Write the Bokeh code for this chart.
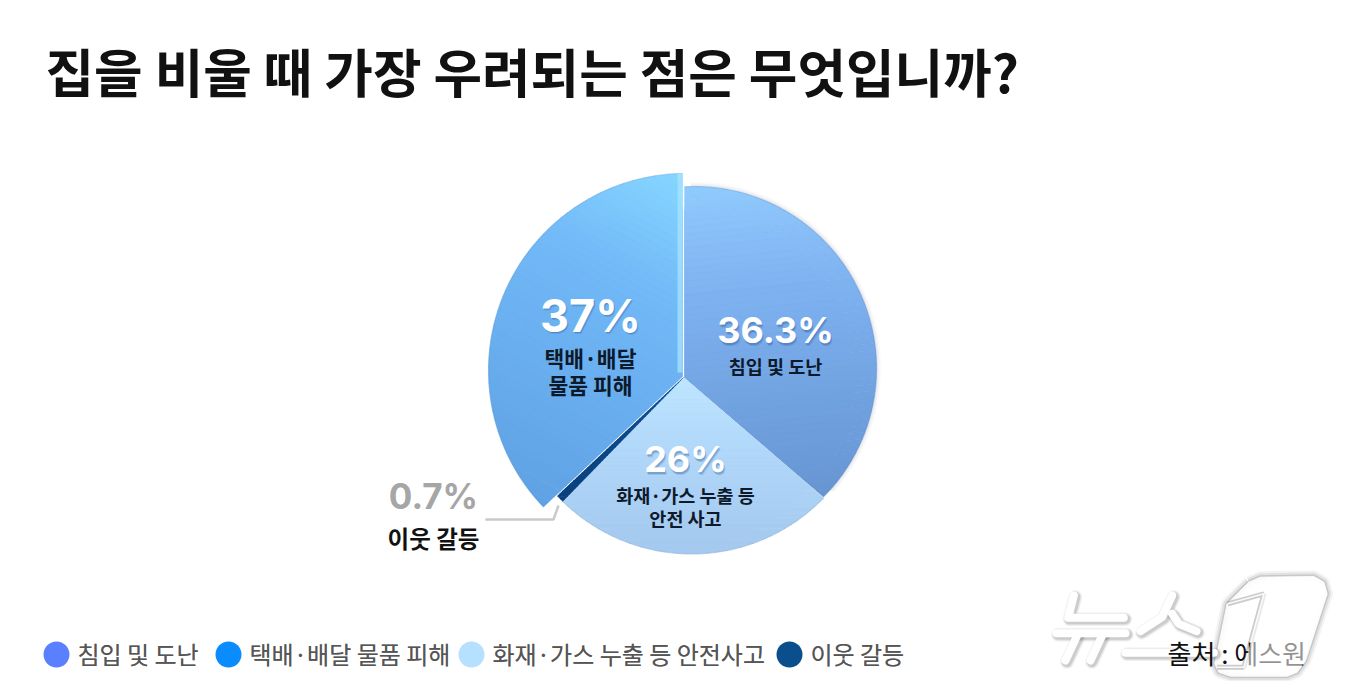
import numpy as np
from bokeh.plotting import figure
from bokeh.core.properties import value
from bokeh.embed import file_html
from bokeh.resources import INLINE

# ---- data ----
categories = ["침입 및 도난", "화재·가스 누출 등 안전사고", "이웃 갈등", "택배·배달 물품 피해"]
values = [36.3, 26.0, 0.7, 37.0]
legend_order = ["침입 및 도난", "택배·배달 물품 피해", "화재·가스 누출 등 안전사고", "이웃 갈등"]
legend_colors = ["#5B80FF", "#0A8CFF", "#B5E0FF", "#0A4F8C"]
title = "집을 비울 때 가장 우려되는 점은 무엇입니까?"
source = "출처 : 에스원"

FONT = "Noto Sans CJK KR"
NUM = "Inter"


def Y(py):
    return 697 - py


p = figure(width=1334, height=681, x_range=(0, 1334), y_range=(16, 697),
           output_backend="svg", toolbar_location=None, min_border=0,
           background_fill_color="white", border_fill_color="white")
p.axis.visible = False
p.grid.visible = False
p.outline_line_color = None

# ---- pie ----
shares = np.array(values) / sum(values) * 2 * np.pi
ends = np.cumsum(shares)
starts = ends - shares
# arc circle (cx, cy, r), apex, gradient stops, gradient direction (px)
styles = [
    ((694, 368, 182), (684, 377), ("#90CBFD", "#7FB2F1", "#6695D2"), (0.10, 1.0)),
    ((691, 369.5, 184), (683, 377), ("#BFE6FF", "#B3DAFB", "#A4C8EE"), (0.0, 1.0)),
    ((691, 369.5, 184), (683, 377), ("#0F5AA0", "#0D4C8E", "#0B3F7C"), (0.0, 1.0)),
    ((685, 370, 197), (682, 376), ("#86D6FF", "#72B9F8", "#5FA2E4"), (-0.55, 1.0)),
]


def slice_polygon(a0, a1, circle, ap):
    cx, cy, r = circle
    th = np.linspace(a0, a1, 90)
    pts = [ap]
    for t in th:
        d = np.array([np.sin(t), -np.cos(t)])
        f = np.array(ap, float) - np.array([cx, cy], float)
        b = f @ d
        s = -b + np.sqrt(b * b - (f @ f - r * r))
        pts.append(tuple(np.array(ap) + s * d))
    return np.array(pts, float)


def clip(poly, n, lo, hi):
    def half(P, sign, lim):
        out = []
        for i in range(len(P)):
            A, B = P[i], P[(i + 1) % len(P)]
            da, db = sign * (A @ n - lim), sign * (B @ n - lim)
            if da >= 0:
                out.append(A)
            if da * db < 0:
                out.append(A + (B - A) * da / (da - db))
        return np.array(out) if out else np.zeros((0, 2))
    P = half(poly, 1, lo)
    if len(P):
        P = half(P, -1, hi)
    return P


def mix(c0, c1, t):
    a = [int(c0[i:i + 2], 16) for i in (1, 3, 5)]
    b = [int(c1[i:i + 2], 16) for i in (1, 3, 5)]
    return "#%02x%02x%02x" % tuple(round(x + (y - x) * t) for x, y in zip(a, b))


def ramp(stops, t):
    # the middle stop sits a third of the way along
    if t < 0.33:
        return mix(stops[0], stops[1], t / 0.33)
    return mix(stops[1], stops[2], (t - 0.33) / 0.67)


# soft shadow behind the pie
for w, a in ((9, 0.03), (6, 0.05), (3, 0.07)):
    t = np.linspace(-0.02, 2.3, 80)
    p.line(694 + 182 * np.sin(t), Y(368 - 182 * np.cos(t)), line_color="#5A6B80", line_width=w, line_alpha=a)

# base wedges from the values
for a0, a1, st in zip(starts, ends, styles):
    p.wedge(x=st[1][0], y=Y(st[1][1]), radius=168, start_angle=np.pi / 2 - a0, end_angle=np.pi / 2 - a1,
            direction="clock", fill_color=st[2][2], line_color=None)

# gradient slices, drawn from the same angles
for idx in (0, 1, 2, 3):
    a0, a1 = starts[idx], ends[idx]
    circle, ap, stops, g = styles[idx]
    poly = slice_polygon(a0, a1, circle, ap)
    n = np.array(g, float)
    n /= np.linalg.norm(n)
    proj = poly @ n
    lo, hi = proj.min(), proj.max()
    N = 48
    edges = np.linspace(lo, hi, N + 1)
    xs, ys, cs = [], [], []
    for i in range(N):
        P = clip(poly, n, edges[i], edges[i + 1] + 0.3)
        if len(P) < 3:
            continue
        xs.append(list(P[:, 0]))
        ys.append(list(Y(P[:, 1])))
        cs.append(ramp(stops, (i + 0.5) / N))
    p.patches(xs, ys, fill_color=cs, line_color=cs, line_width=0.4)
    # rim
    rim = poly[1:]
    rim_col = mix(stops[2], "#3E6FA8", 0.45)
    if idx != 2:
        p.line(rim[:, 0], Y(rim[:, 1]), line_color=rim_col, line_width=1.2, line_alpha=0.25)

# bevel on the straight edge of the big exploded slice
left_poly = slice_polygon(starts[3], ends[3], styles[3][0], styles[3][1])
tx = left_poly[-1, 0]
p.line([tx - 2.5, tx - 2.5], [Y(left_poly[-1, 1]), Y(styles[3][1][1] - 4)], line_color="#A6E4FF", line_width=5, line_alpha=0.75)


# ---- labels ----
def label(x, y, text, size, color, font=FONT, style="bold", align="center", alpha=1.0):
    p.text(x=[x], y=[Y(y - 1.5)], text=[text], text_font=value(font), text_font_size=value(f"{size}px"),
           text_font_style=style, text_color=color, text_align=align, text_baseline="middle", text_alpha=alpha)


def pct(x, y, text, size):
    for dx, dy, a in ((1.5, 2.5, 0.18), (0.8, 1.5, 0.25)):
        label(x + dx, y + dy, text, size, "#1F4E86", font=NUM, alpha=a)
    label(x, y, text, size, "#FFFFFF", font=NUM)


label(45, 71, title, 52.8, "#111111", align="left")

pct(590, 316, f"{values[3]:g}%", 45)
label(590, 358, "택배·배달", 21.5, "#0D1A2B")
label(590, 385, "물품 피해", 21.5, "#0D1A2B")
pct(775, 331, f"{values[0]:g}%", 36)
label(775, 367, "침입 및 도난", 18.5, "#0D1A2B")
pct(685, 460, f"{values[1]:g}%", 36)
label(685, 496, "화재·가스 누출 등", 18.5, "#0D1A2B")
label(685, 519, "안전 사고", 18.5, "#0D1A2B")

label(433, 497, f"{values[2]:g}%", 35, "#A6A6A6", font=NUM)
label(433, 539, "이웃 갈등", 23.5, "#111111")
p.line([485, 553, 558], [Y(519), Y(519), Y(505)], line_color="#C9C9C9", line_width=2.5)

# ---- legend ----
leg_x = [56, 228, 471, 789]
p.scatter(x=leg_x, y=[Y(654)] * 4, size=26, marker="circle", fill_color=legend_colors, line_color=None)
for lx, txt in zip(leg_x, legend_order):
    label(lx + 21, 654, txt, 24, "#555555", align="left", style="normal")
    label(lx + 21, 654, txt, 24, "#555555", align="left", style="normal", alpha=0.6)


# ---- watermark (pixel positions taken from the zoomed crop) ----
def Z(x, y):
    return 1030 + x / 3, Y(560 + y / 3)


strokes = [
    [(130, 105), (113, 172), (280, 172)],
    [(78, 218), (285, 218)],
    [(140, 225), (105, 300)],
    [(215, 225), (180, 300)],
    [(425, 105), (395, 170), (330, 212)],
    [(425, 160), (445, 190), (498, 212)],
    [(285, 277), (550, 277)],
]
outer = [(655, 65), (690, 50), (850, 48), (880, 65), (890, 100), (825, 300), (800, 335), (770, 347),
         (600, 347), (565, 335), (553, 310), (590, 130), (610, 110)]
right_part = [(700, 100), (705, 50), (850, 48), (880, 65), (890, 100), (825, 300), (800, 335), (770, 347),
              (640, 347), (640, 320)]
one = [(592, 130), (700, 100), (640, 320), (560, 320)]

ox, oy = zip(*[Z(*q) for q in outer])
for w, a in ((12, 0.06), (8, 0.10), (4, 0.16)):
    p.line(list(ox) + [ox[0]], list(oy) + [oy[0]], line_color="#444444", line_width=w, line_alpha=a)
p.patch(ox, oy, fill_color="#FFFFFF", fill_alpha=0.9, line_color="#FFFFFF", line_width=1, line_alpha=0.8)
p.line(*zip(*[Z(*q) for q in one]), line_color="#555555", line_width=5, line_alpha=0.3)
p.line(*zip(*[Z(*q) for q in one]), line_color="#FFFFFF", line_width=1.5, line_alpha=0.9)

for s in strokes:
    sx, sy = zip(*[Z(*q) for q in s])
    sx2 = [v + 1.5 for v in sx]
    sy2 = [v - 1.5 for v in sy]
    for w, a in ((14, 0.06), (12, 0.09), (10, 0.15)):
        p.line(sx2, sy2, line_color="#444444", line_width=w, line_alpha=a, line_cap="round", line_join="round")
for s in strokes:
    sx, sy = zip(*[Z(*q) for q in s])
    p.line(sx, sy, line_color="#FFFFFF", line_width=8, line_cap="round", line_join="round")

# source sits over the strokes; the right-hand part of the badge veils it
label(1167, 653, source, 26, "#111111", align="left", style="normal")
rx, ry = zip(*[Z(*q) for q in right_part])
p.patch(rx, ry, fill_color="#FFFFFF", fill_alpha=0.55, line_color=None)

open("out.html", "w").write(file_html(p, INLINE))
